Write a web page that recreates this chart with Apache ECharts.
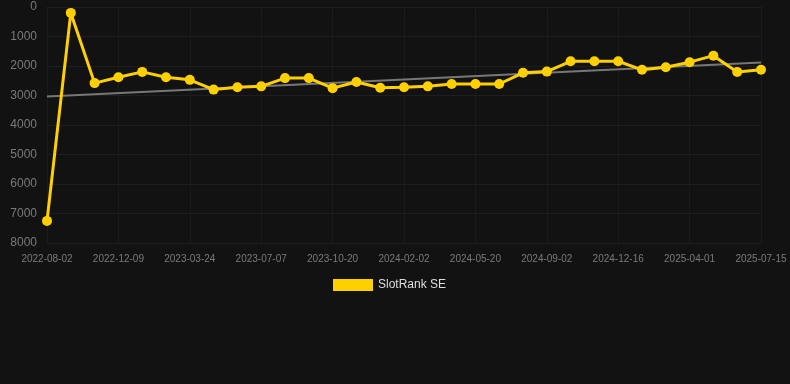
<!DOCTYPE html>
<html>
<head>
<meta charset="utf-8">
<script src="https://cdn.jsdelivr.net/npm/echarts@6/dist/echarts.min.js"></script>
<style>
	html, body { margin: 0; padding: 0; background: #121212; }
	#chart { width: 790px; height: 384px; }
</style>
</head>
<body>
<div id="chart"></div>
<script>
var dates = [
	"2022-08-02", "2022-09-30", "2022-11-04", "2022-12-09", "2023-01-13", "2023-02-17",
	"2023-03-24", "2023-04-28", "2023-06-02", "2023-07-07", "2023-08-11", "2023-09-15",
	"2023-10-20", "2023-11-24", "2023-12-29", "2024-02-02", "2024-03-08", "2024-04-13",
	"2024-05-20", "2024-06-24", "2024-07-29", "2024-09-02", "2024-10-07", "2024-11-11",
	"2024-12-16", "2025-01-20", "2025-02-24", "2025-04-01", "2025-05-06", "2025-06-10",
	"2025-07-15"
];

var ranks = [
	7250, 200, 2580, 2380, 2200, 2380,
	2470, 2800, 2720, 2690, 2410, 2410,
	2750, 2540, 2740, 2720, 2690, 2610,
	2610, 2610, 2230, 2190, 1840, 1840,
	1840, 2130, 2040, 1870, 1650, 2200,
	2130
];

// trend line end points (first and last category)
var trendStart = 3030,
	trendEnd = 1880;

var yTicks = [0, 1000, 2000, 3000, 4000, 5000, 6000, 7000, 8000];

var myChart = echarts.init(document.getElementById("chart"), null, { renderer: "canvas" }),
	option;

option = {
	backgroundColor: "#121212",
	animation: false,
	textStyle: {
		fontFamily: "Liberation Sans, Arial, sans-serif"
	},
	grid: {
		left: 47,
		right: 29,
		top: 7,
		bottom: 141
	},
	legend: {
		data: ["SlotRank SE"],
		left: 328,
		top: 274,
		itemWidth: 40,
		itemHeight: 12,
		itemGap: 5,
		icon: "rect",
		textStyle: {
			color: "#dddddd",
			fontSize: 12
		}
	},
	xAxis: {
		type: "category",
		data: dates,
		boundaryGap: false,
		axisLine: {
			show: true,
			lineStyle: { color: "#1e1e1e" }
		},
		axisTick: {
			show: true,
			interval: 2,
			length: 4,
			lineStyle: { color: "#1e1e1e" }
		},
		axisLabel: {
			interval: 2,
			color: "#7a7a7a",
			fontSize: 10,
			margin: 11
		},
		splitLine: {
			show: true,
			interval: 2,
			lineStyle: { color: "#1b1b1b" }
		}
	},
	yAxis: {
		type: "value",
		inverse: true,
		min: yTicks[0],
		max: yTicks[yTicks.length - 1],
		interval: 1000,
		axisLine: { show: false },
		axisTick: { show: false },
		axisLabel: {
			color: "#7a7a7a",
			fontSize: 12,
			margin: 10,
			formatter: function (v) { return String(v); }
		},
		splitLine: {
			lineStyle: { color: "#1e1e1e" }
		}
	},
	series: [{
		name: "Trend",
		type: "line",
		data: [[0, trendStart], [dates.length - 1, trendEnd]],
		showSymbol: false,
		symbol: "none",
		lineStyle: { color: "#777777", width: 2 },
		z: 1
	}, {
		name: "SlotRank SE",
		type: "line",
		data: ranks,
		symbol: "circle",
		symbolSize: 10,
		itemStyle: { color: "#ffd000" },
		lineStyle: { color: "#ffd000", width: 3 },
		z: 2
	}]
};

myChart.setOption(option);
</script>
</body>
</html>
